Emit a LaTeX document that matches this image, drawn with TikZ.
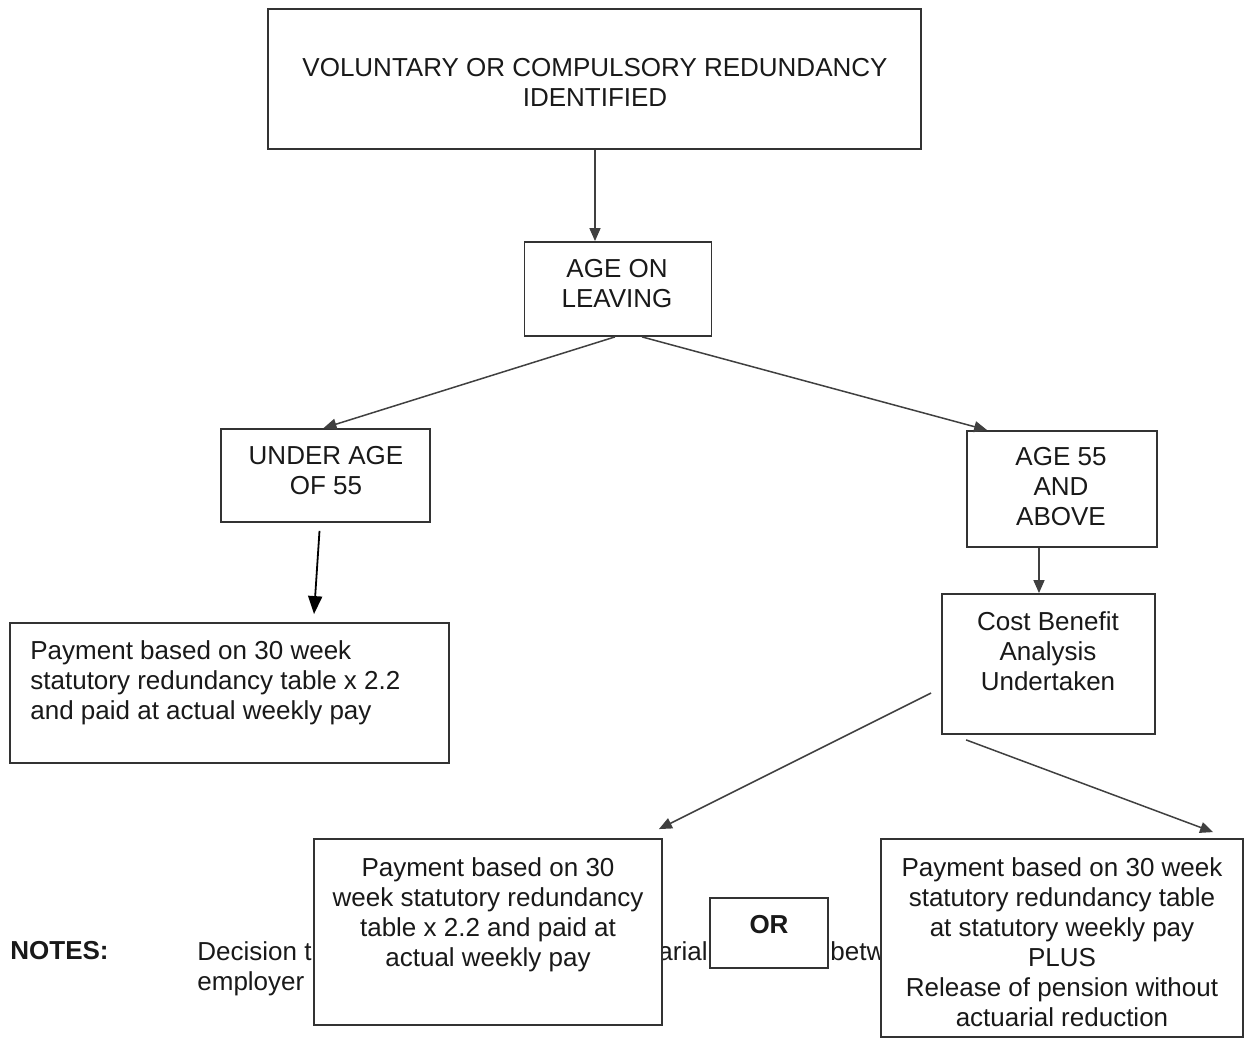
\documentclass[tikz,border=0pt]{standalone}
\usepackage{fontspec}
\setmainfont{Liberation Sans}
\usetikzlibrary{arrows.meta,calc}
\begin{document}
\begin{tikzpicture}[x=0.5pt,y=-0.5pt,
  box/.style={draw=black!80,line width=0.9pt,fill=white,inner sep=0pt},
  txt/.style={font=\fontsize{13}{15}\selectfont,inner sep=0pt,text=black!90},
  conn/.style={draw=black!75,line width=0.75pt,-{Triangle[length=6.5pt,width=5.5pt]}},
  connk/.style={draw=black,line width=0.9pt,-{Triangle[length=9pt,width=7pt]}}]
\useasboundingbox (0,0) rectangle (1244,1038);
% notes text (partly hidden by the boxes drawn afterwards)
\node[txt,font=\fontsize{13}{15}\selectfont\bfseries,anchor=north west] (notes) at (10,941) {NOTES:};
\node[txt,anchor=north west,align=left] (notetxt) at (197,941) {Decision t\\employer};
\node[txt,anchor=north east] (notetxtb) at (708,941) {actuarial};
\node[txt,anchor=north west] (notetxtc) at (830,941) {between};
% boxes
\node[box,minimum width=326.5pt,minimum height=70pt] (top) at (594.5,79) {};
\node[txt,align=center,anchor=north] (topT) at (595,58) {VOLUNTARY OR COMPULSORY REDUNDANCY\\IDENTIFIED};
\node[box,minimum width=93.5pt,minimum height=47pt] (age) at (618,289) {};
\node[txt,align=center,anchor=north] (ageT) at (617,259) {AGE ON\\LEAVING};
\node[box,minimum width=104.5pt,minimum height=46.5pt] (under) at (325.5,475.5) {};
\node[txt,align=center,anchor=north] (underT) at (326,446) {UNDER AGE\\OF 55};
\node[box,minimum width=95pt,minimum height=58pt] (age55) at (1062,489) {};
\node[txt,align=center,anchor=north] (age55T) at (1061,447) {AGE 55\\AND\\ABOVE};
\node[box,minimum width=219.5pt,minimum height=70pt] (payL) at (229.5,693) {};
\node[txt,align=left,anchor=north west] (payLT) at (30,640) {Payment based on 30 week\\statutory redundancy table x 2.2\\and paid at actual weekly pay};
\node[box,minimum width=106.5pt,minimum height=70pt] (cba) at (1048.5,664) {};
\node[txt,align=center,anchor=north] (cbaT) at (1048,611) {Cost Benefit\\Analysis\\Undertaken};
\node[box,minimum width=174pt,minimum height=93pt] (payM) at (488,932) {};
\node[txt,align=center,anchor=north] (payMT) at (488,857) {Payment based on 30\\week statutory redundancy\\table x 2.2 and paid at\\actual weekly pay};
\node[box,minimum width=59pt,minimum height=35pt] (orb) at (769,933) {};
\node[txt,font=\fontsize{13}{15}\selectfont\bfseries,anchor=north] (orT) at (769,915) {OR};
\node[box,minimum width=181pt,minimum height=99pt] (payR) at (1062,938) {};
\node[txt,align=center,anchor=north] (payRT) at (1062,857) {Payment based on 30 week\\statutory redundancy table\\at statutory weekly pay\\PLUS\\Release of pension without\\actuarial reduction};
% connector end points
\coordinate (a55s) at ($(age55.south)+(-23,0)$);
\coordinate (topS) at ($(top.south)+(0.5,0)$);
% connectors
\draw[conn] (topS) -- (topS |- age.north);
\draw[conn] ($(age.south)+(-3,0)$) -- ($(under.north)+(-2,0)$);
\draw[conn] ($(age.south)+(24,0)$) -- ($(age55.north west)+(21,0)$);
\draw[connk] ($(under.south)+(-6,8)$) -- ($(payL.north)+(84.5,-8)$);
\draw[conn] (a55s) -- (a55s |- cba.north);
\draw[conn] ($(cba.west)+(-10,29)$) -- ($(payM.north east)+(-4,-9)$);
\draw[conn] ($(cba.south west)+(25,5)$) -- ($(payR.north west)+(333,-6)$);
\end{tikzpicture}
\end{document}
